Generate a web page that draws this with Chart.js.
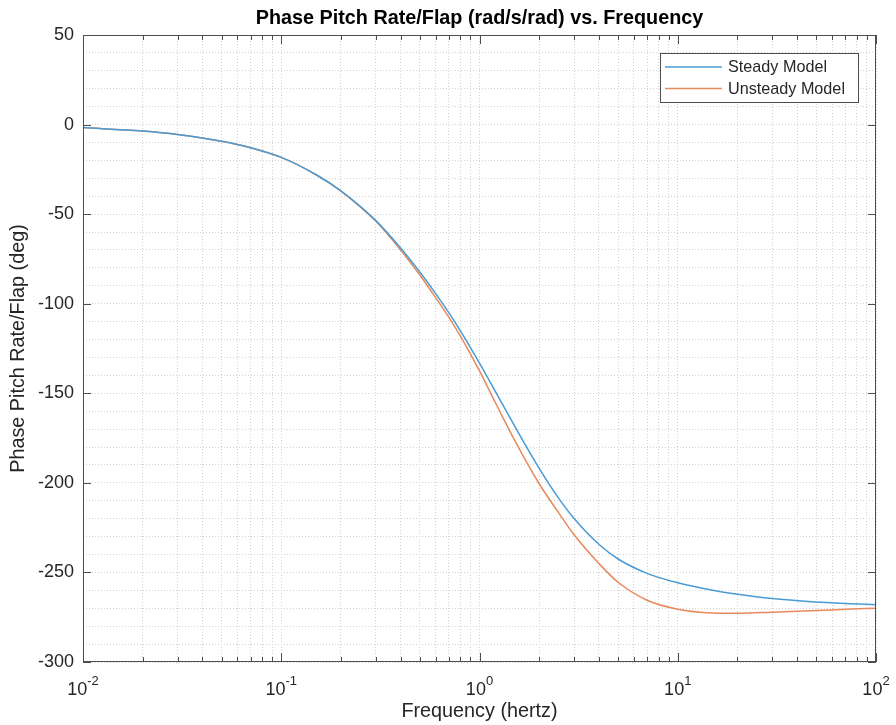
<!DOCTYPE html>
<html lang="en">
<head>
    <meta charset="UTF-8">
    <title>Phase Pitch Rate/Flap vs. Frequency</title>
    <script src="https://cdn.jsdelivr.net/npm/chart.js"></script>
    <style>
        body { margin: 0; background: #fff; }
        canvas { display: block; }
    </style>
</head>
<body>
    <canvas id="phaseChart" width="896" height="725"></canvas>

    <script>
        // frequency (Hz) and phase (deg)
        const freqHz = [0.01, 0.02, 0.03, 0.05, 0.07, 0.1, 0.15, 0.2, 0.3, 0.4, 0.5, 0.6, 0.7, 0.8,
                        1, 1.2, 1.5, 2, 2.5, 3, 4, 5, 7, 10, 15, 20, 30, 50, 70, 100];
        const steadyPhase = [-1.7, -3.6, -5.5, -9.3, -12.9, -18.3, -28, -37, -53.6, -68.9, -82.3, -94.2, -105, -115,
                             -133.2, -148.8, -168.1, -191.9, -208.4, -219.9, -234.3, -242.5, -250.5, -255.8, -260, -262.2, -264.6, -266.5, -267.4, -268];
        const unsteadyPhase = [-1.7, -3.6, -5.5, -9.3, -12.9, -18.3, -28, -37.1, -54, -70, -84, -96.5, -107.5, -118,
                               -137.5, -155, -176, -200.5, -216.5, -229, -245, -255.5, -265.5, -270.5, -272.6, -272.8, -272.2, -271.3, -270.6, -270];

        const xDecades = [-2, -1, 0, 1, 2];
        const yMajorTicks = [50, 0, -50, -100, -150, -200, -250, -300];

        const FONT = '"Liberation Sans", Arial, Helvetica, sans-serif';
        const AXIS_COLOR = '#4d4d4d';
        const TEXT_COLOR = '#262626';
        const GRID_COLOR = '#d2d2d2';

        function toPoints(xs, ys) {
            return xs.map((x, i) => ({ x: x, y: ys[i] }));
        }

        // MATLAB style box, inner ticks, superscript labels, titles and legend
        const matlabAxes = {
            id: 'matlabAxes',
            beforeDraw(chart) {
                const ctx = chart.ctx;
                ctx.save();
                ctx.fillStyle = '#fff';
                ctx.fillRect(0, 0, chart.width, chart.height);
                ctx.restore();
            },
            afterDraw(chart) {
                const { ctx, chartArea: a, scales: { x, y } } = chart;
                ctx.save();

                // box
                ctx.strokeStyle = AXIS_COLOR;
                ctx.lineWidth = 1;
                ctx.strokeRect(a.left + 0.5, a.top + 0.5, a.right - a.left - 1, a.bottom - a.top - 1);

                // x ticks (inside, top and bottom)
                ctx.beginPath();
                x.ticks.forEach(t => {
                    const px = Math.round(x.getPixelForValue(t.value)) + 0.5;
                    const len = t.major ? 9 : 5;
                    ctx.moveTo(px, a.bottom);
                    ctx.lineTo(px, a.bottom - len);
                    ctx.moveTo(px, a.top);
                    ctx.lineTo(px, a.top + len);
                });
                // y ticks (inside, left and right)
                yMajorTicks.forEach(v => {
                    const py = Math.round(y.getPixelForValue(v)) + 0.5;
                    ctx.moveTo(a.left, py);
                    ctx.lineTo(a.left + 8, py);
                    ctx.moveTo(a.right, py);
                    ctx.lineTo(a.right - 8, py);
                });
                ctx.stroke();

                // x tick labels 10^n
                ctx.fillStyle = TEXT_COLOR;
                ctx.textBaseline = 'middle';
                ctx.textAlign = 'left';
                xDecades.forEach(e => {
                    const px = x.getPixelForValue(Math.pow(10, e));
                    const exp = String(e);
                    ctx.font = '18px ' + FONT;
                    const wb = ctx.measureText('10').width;
                    ctx.font = '13px ' + FONT;
                    const we = ctx.measureText(exp).width;
                    const left = px - (wb + we) / 2;
                    ctx.font = '18px ' + FONT;
                    ctx.fillText('10', left, a.bottom + 28);
                    ctx.font = '13px ' + FONT;
                    ctx.fillText(exp, left + wb, a.bottom + 19);
                });

                // titles
                ctx.textAlign = 'center';
                ctx.fillStyle = '#000';
                ctx.font = 'bold 19.8px ' + FONT;
                ctx.fillText('Phase Pitch Rate/Flap (rad/s/rad) vs. Frequency', (a.left + a.right) / 2, 19);

                ctx.fillStyle = TEXT_COLOR;
                ctx.font = '19.8px ' + FONT;
                ctx.fillText('Frequency (hertz)', (a.left + a.right) / 2, 712);

                ctx.save();
                ctx.translate(19, (a.top + a.bottom) / 2);
                ctx.rotate(-Math.PI / 2);
                ctx.fillText('Phase Pitch Rate/Flap (deg)', 0, 0);
                ctx.restore();

                // legend
                const lx = 660, ly = 53, lw = 198, lh = 49;
                ctx.fillStyle = '#fff';
                ctx.fillRect(lx, ly, lw, lh);
                ctx.strokeStyle = AXIS_COLOR;
                ctx.strokeRect(lx + 0.5, ly + 0.5, lw, lh);
                ctx.font = '16.2px ' + FONT;
                ctx.textAlign = 'left';
                chart.data.datasets.forEach((ds, i) => {
                    const rowY = ly + 14 + i * 21.5;
                    ctx.strokeStyle = ds.borderColor;
                    ctx.lineWidth = ds.borderWidth;
                    ctx.beginPath();
                    ctx.moveTo(lx + 5, rowY);
                    ctx.lineTo(lx + 62, rowY);
                    ctx.stroke();
                    ctx.fillStyle = TEXT_COLOR;
                    ctx.fillText(ds.label, lx + 68, rowY + 1);
                });

                ctx.restore();
            }
        };

        const ctx = document.getElementById('phaseChart').getContext('2d');

        new Chart(ctx, {
            type: 'line',
            data: {
                datasets: [
                    {
                        label: 'Steady Model',
                        data: toPoints(freqHz, steadyPhase),
                        borderColor: '#4a9bd3',
                        borderWidth: 1.5,
                        pointRadius: 0,
                        fill: false,
                        cubicInterpolationMode: 'monotone'
                    },
                    {
                        label: 'Unsteady Model',
                        data: toPoints(freqHz, unsteadyPhase),
                        borderColor: '#e8895c',
                        borderWidth: 1.5,
                        pointRadius: 0,
                        fill: false,
                        cubicInterpolationMode: 'monotone'
                    }
                ]
            },
            options: {
                responsive: false,
                animation: false,
                layout: { padding: { left: 0, right: 20, top: 35, bottom: 0 } },
                plugins: {
                    legend: { display: false },
                    tooltip: { enabled: false }
                },
                scales: {
                    x: {
                        type: 'logarithmic',
                        min: 0.01,
                        max: 100,
                        afterBuildTicks: scale => {
                            const ticks = [];
                            for (let e = -2; e < 2; e++) {
                                for (let m = 1; m < 10; m++) {
                                    ticks.push({ value: m * Math.pow(10, e), major: m === 1 });
                                }
                            }
                            ticks.push({ value: 100, major: true });
                            scale.ticks = ticks;
                        },
                        afterFit: scale => { scale.height = 63; },
                        ticks: { display: false },
                        grid: { color: GRID_COLOR, lineWidth: 1, drawTicks: false },
                        border: { display: false, dash: [1, 2] }
                    },
                    y: {
                        min: -300,
                        max: 50,
                        afterBuildTicks: scale => {
                            const ticks = [];
                            for (let v = -300; v <= 50; v += 10) ticks.push({ value: v });
                            scale.ticks = ticks;
                        },
                        afterFit: scale => { scale.width = 83; },
                        ticks: {
                            autoSkip: false,
                            padding: 9,
                            color: TEXT_COLOR,
                            font: { family: FONT, size: 18 },
                            callback: v => (v % 50 === 0 ? String(v) : '')
                        },
                        grid: { color: GRID_COLOR, lineWidth: 1, drawTicks: false },
                        border: { display: false, dash: [1, 2] }
                    }
                }
            },
            plugins: [matlabAxes]
        });
    </script>
</body>
</html>
